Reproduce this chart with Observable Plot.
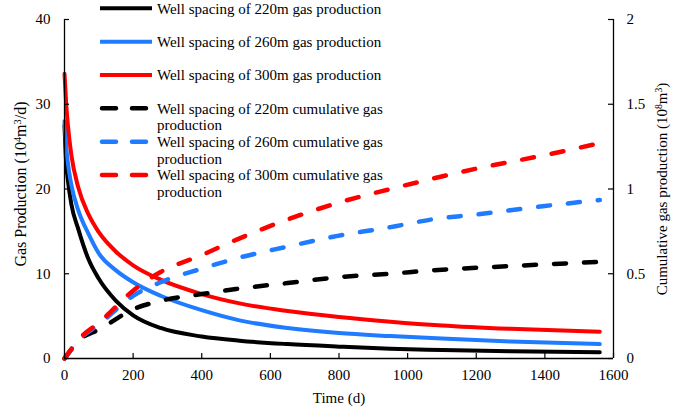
<!DOCTYPE html>
<html><head><meta charset="utf-8">
<script src="https://cdn.jsdelivr.net/npm/d3@7"></script>
<script src="https://cdn.jsdelivr.net/npm/@observablehq/plot@0.6"></script>
<style>body{margin:0;background:#fff} #chart{width:685px;height:417px} svg text{font-family:'Liberation Serif','DejaVu Serif',serif !important}</style>
</head><body><div id="chart"></div>
<script>
// ---- data ----
const spacings = ["220m", "260m", "300m"];
const seriesColors = ["#000000", "#1f7bff", "#ff0000"];

// gas production rate, 10^4 m3/d
const timeRate = [0, 5, 10, 20, 40, 70, 100, 150, 200, 280, 400, 510, 650, 800, 950, 1100, 1300, 1560];
const rate220 = [27.5, 23.0, 21.0, 18.2, 15.3, 11.7, 9.4, 6.8, 5.1, 3.6, 2.6, 2.1, 1.7, 1.4, 1.15, 1.0, 0.85, 0.73];
const rate260 = [28.0, 25.0, 23.0, 20.5, 17.5, 14.7, 12.4, 10.4, 9.0, 7.4, 5.7, 4.5, 3.6, 3.0, 2.65, 2.35, 2.0, 1.7];
const rate300 = [33.6, 30.0, 27.5, 24.0, 20.2, 17.0, 14.9, 12.6, 11.0, 9.3, 7.6, 6.5, 5.6, 4.9, 4.35, 3.9, 3.5, 3.15];

// cumulative gas production, 10^8 m3
const timeCum = [0, 50, 100, 200, 280, 400, 500, 650, 800, 950, 1070, 1200, 1400, 1560];
const cum220 = [0, 0.12, 0.17, 0.29, 0.34, 0.38, 0.41, 0.445, 0.48, 0.50, 0.52, 0.535, 0.555, 0.57];
const cum260 = [0, 0.125, 0.20, 0.37, 0.45, 0.53, 0.59, 0.66, 0.725, 0.775, 0.82, 0.85, 0.90, 0.935];
const cum300 = [0, 0.13, 0.21, 0.40, 0.51, 0.61, 0.70, 0.82, 0.92, 1.00, 1.06, 1.12, 1.20, 1.27];

const xTicks = [0, 200, 400, 600, 800, 1000, 1200, 1400, 1600];
const yLeftTicks = [0, 10, 20, 30, 40];
const yRightTicks = [0, 0.5, 1, 1.5, 2];

const legendLabels = [
  ["Well spacing of 220m gas production"],
  ["Well spacing of 260m gas production"],
  ["Well spacing of 300m gas production"],
  ["Well spacing of 220m cumulative gas", "production"],
  ["Well spacing of 260m cumulative gas", "production"],
  ["Well spacing of 300m cumulative gas", "production"]
];

// ---- build ----
const W = 685, H = 417, ML = 64, MR = 72, MT = 19, MB = 59;
const plotH = H - MT - MB, plotW = W - ML - MR;
const ratio = yLeftTicks[yLeftTicks.length - 1] / yRightTicks[yRightTicks.length - 1];
const rates = [rate220, rate260, rate300];
const cums = [cum220, cum260, cum300];
const FONT = "'Liberation Serif', 'DejaVu Serif', serif";
const DASH = "12,18";

const solidMarks = rates.map((arr, i) => Plot.line(
  timeRate.map((t, j) => ({t, v: arr[j]})),
  {x: "t", y: "v", stroke: seriesColors[i], strokeWidth: 4, curve: "monotone-x"}));
const dashMarks = cums.map((arr, i) => Plot.line(
  timeCum.map((t, j) => ({t, v: arr[j] * ratio})),
  {x: "t", y: "v", stroke: seriesColors[i], strokeWidth: 4.5, strokeDasharray: DASH, strokeLinecap: "round", curve: "monotone-x"}));

const chart = Plot.plot({
  width: W, height: H,
  marginLeft: ML, marginRight: MR, marginTop: MT, marginBottom: MB,
  style: {fontFamily: FONT, fontSize: "15px", color: "#000", background: "#fff", overflow: "visible"},
  x: {domain: [0, 1600]},
  y: {domain: [0, 40]},
  marks: [
    ...solidMarks,
    ...dashMarks,
    Plot.ruleY([0], {stroke: "#000", strokeWidth: 1.3}),
    Plot.ruleX([0], {stroke: "#000", strokeWidth: 1.3}),
    Plot.ruleX([1600], {stroke: "#000", strokeWidth: 1.3}),
    Plot.tickX(xTicks, {x: d => d, insetTop: plotH - 5, stroke: "#000", strokeWidth: 1.2}),
    Plot.tickY(yLeftTicks, {y: d => d, insetRight: plotW - 5, stroke: "#000", strokeWidth: 1.2}),
    Plot.tickY(yRightTicks.map(d => d * ratio), {y: d => d, insetLeft: plotW - 5, stroke: "#000", strokeWidth: 1.2}),
    Plot.axisX({ticks: xTicks, tickFormat: d => String(d), tickSize: 0, tickPadding: 11, label: null, fontSize: 15}),
    Plot.axisY({ticks: yLeftTicks, tickFormat: d => String(d), tickSize: 0, tickPadding: 14, label: null, fontSize: 15}),
    Plot.axisY({anchor: "right", ticks: yRightTicks.map(d => d * ratio), tickFormat: d => String(d / ratio), tickSize: 0, tickPadding: 13, label: null, fontSize: 15})
  ]
});
document.getElementById("chart").appendChild(chart);

// ---- legend and axis titles ----
const svg = d3.select(chart);
const leg = svg.append("g").attr("font-size", 15).attr("fill", "#000").attr("text-anchor", "start");
const rowY = [8.3, 41.7, 75, 108.3, 141.7, 175];
legendLabels.forEach((lines, i) => {
  const dashed = i >= 3;
  const c = seriesColors[i % 3];
  leg.append("line")
    .attr("x1", dashed ? 102 : 100).attr("x2", dashed ? 150 : 152)
    .attr("y1", rowY[i]).attr("y2", rowY[i])
    .attr("stroke", c).attr("stroke-width", dashed ? 4.5 : 4)
    .attr("stroke-linecap", dashed ? "round" : "butt")
    .attr("stroke-dasharray", dashed ? "14,16" : null);
  lines.forEach((s, k) => {
    leg.append("text").attr("x", 157).attr("y", rowY[i] + k * 16.7).attr("dy", "0.35em").attr("text-anchor", "start").text(s);
  });
});

function title(g, x, y, rot, size, parts) {
  const t = g.append("text").attr("transform", `translate(${x},${y}) rotate(${rot})`)
    .attr("text-anchor", "middle").attr("dy", "0.35em")
    .attr("font-size", size).attr("fill", "#000");
  parts.forEach(([s, sup]) => {
    const ts = t.append("tspan").text(s);
    if (sup) ts.attr("baseline-shift", "super").attr("font-size", size * 0.65);
  });
}
title(svg, 20, 184, -90, 16, [["Gas Production (10"], ["4", true], ["m"], ["3", true], ["/d)"]]);
title(svg, 662, 189, -90, 15, [["Cumulative gas production (10"], ["8", true], ["m"], ["3", true], [")"]]);
title(svg, 339, 398, 0, 15, [["Time (d)"]]);
</script>
</body></html>
